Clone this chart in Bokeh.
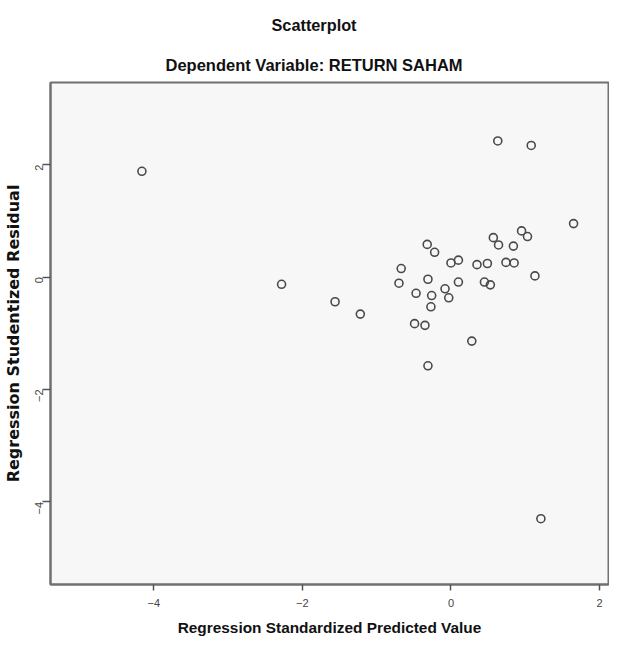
from bokeh.plotting import figure
from bokeh.models import Title, FixedTicker, Range1d
from bokeh.embed import file_html
from bokeh.resources import INLINE
import math

title_main = "Scatterplot"
title_sub = "Dependent Variable: RETURN SAHAM"
x_label = "Regression Standardized Predicted Value"
y_label = "Regression Studentized Residual"
x_ticks = [-4, -2, 0, 2]
y_ticks = [-4, -2, 0, 2]

pred = [-4.16, -2.28, -1.56, -1.22, -0.67, -0.70, -0.47, -0.49, 0.63, 1.08,
        1.65, 0.95, 1.03, 0.57, 0.64, 0.84, -0.32, -0.22, 0.00, 0.10,
        0.35, 0.49, 0.74, 0.85, 1.13, -0.31, 0.10, 0.45, 0.53, -0.26,
        -0.08, -0.03, -0.35, -0.27, 0.28, -0.31, 1.21]
resid = [1.88, -0.13, -0.44, -0.66, 0.15, -0.11, -0.29, -0.83, 2.42, 2.34,
         0.95, 0.82, 0.72, 0.70, 0.57, 0.55, 0.58, 0.44, 0.25, 0.30,
         0.22, 0.24, 0.26, 0.25, 0.02, -0.04, -0.09, -0.09, -0.14, -0.33,
         -0.21, -0.37, -0.86, -0.53, -1.14, -1.58, -4.30]

FONT = "Liberation Sans"

p = figure(width=609, height=638, output_backend="svg", toolbar_location=None,
           x_range=Range1d(-5.39, 2.12), y_range=Range1d(-5.47, 3.46),
           min_border_left=50, min_border_right=1, min_border_top=82,
           min_border_bottom=53)
p.title = None
p.add_layout(Title(text=title_sub, align="left", offset=115,
                   text_font=FONT, text_font_size="16.5px",
                   text_font_style="bold", text_color="#111111", standoff=17), "above")
p.add_layout(Title(text=title_main, align="left", offset=221,
                   text_font=FONT, text_font_size="16.3px",
                   text_font_style="bold", text_color="#111111", standoff=24), "above")

p.background_fill_color = "#f7f7f7"
p.border_fill_color = "white"
p.outline_line_color = "#707070"
p.outline_line_width = 2
p.xgrid.visible = False
p.ygrid.visible = False

for ax in (p.xaxis[0], p.yaxis[0]):
    ax.axis_line_color = "#707070"
    ax.axis_line_width = 2
    ax.major_tick_line_color = "#555555"
    ax.major_tick_line_width = 1.5
    ax.major_tick_out = 6
    ax.major_tick_in = 0
    ax.minor_tick_line_color = None
    ax.major_label_text_font = FONT
    ax.major_label_text_font_size = "11px"
    ax.major_label_text_color = "#444444"
    ax.axis_label_text_font = FONT
    ax.axis_label_text_font_style = "bold"
    ax.axis_label_text_color = "#111111"

p.xaxis[0].ticker = FixedTicker(ticks=x_ticks)
p.yaxis[0].ticker = FixedTicker(ticks=y_ticks)
p.xaxis[0].axis_label = x_label
p.xaxis[0].axis_label_text_font_size = "15.4px"
p.xaxis[0].major_label_standoff = 8
p.xaxis[0].axis_label_standoff = 9
p.yaxis[0].axis_label = y_label
p.yaxis[0].axis_label_text_font = "DejaVu Sans"
p.yaxis[0].axis_label_text_font_size = "16px"
p.yaxis[0].major_tick_out = 8
p.yaxis[0].major_label_orientation = math.pi / 2
p.yaxis[0].major_label_standoff = 3
p.yaxis[0].axis_label_standoff = 6

p.scatter(pred, resid, marker="circle", size=8, fill_color=None,
          line_color="#4a4a4a", line_width=1.6)

open("out.html", "w").write(file_html(p, INLINE))
